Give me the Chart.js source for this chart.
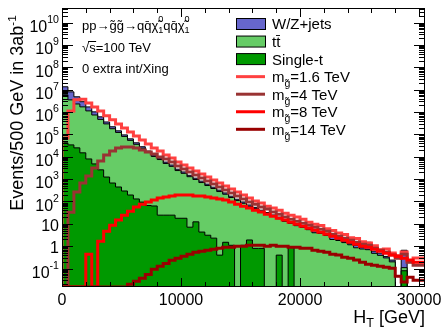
<!DOCTYPE html>
<html>
<head>
<meta charset="utf-8">
<script src="https://cdn.jsdelivr.net/npm/chart.js@4.4.1/dist/chart.umd.min.js"></script>
<style>
  html, body { margin: 0; padding: 0; background: #fff; }
  canvas { display: block; }
</style>
</head>
<body>
<canvas id="ht" width="444" height="329"></canvas>
<script>
// H_T spectrum, 500 GeV bins from 0 to 30.5 TeV, events in 3/ab
const BIN_WIDTH = 500;

const wzJets = [
  1.1e7, 7.6e6, 4.5e6, 2.5e6, 1.2e6, 5.7e5, 2.8e5, 1.4e5, 6.5e4, 4.0e4,
  2.2e4, 1.4e4, 9.0e3, 6.0e3, 4.0e3, 2.5e3, 1.6e3, 1.2e3, 750, 560,
  360, 280, 200, 140, 110, 80, 55, 45, 30, 22,
  16, 12, 9, 7, 6, 4, 3.5, 3, 2, 1.5,
  1.4, 1.0, 0.9, 1.6, 0.5, 0.5, 0.9, 0.3, 0.25, 0.2,
  0.25, 0.15, 0.8, 0.12, 0.1, 0.05, 0.04, 0, 0.55, 0, 0
];
const ttbar = [
  1.16e6, 5.86e6, 3.47e6, 2.28e6, 1.69e6, 1.12e6, 7.35e5, 4.67e5, 2.94e5, 1.79e5,
  1.22e5, 8.1e4, 5.4e4, 3.6e4, 2.4e4, 1.54e4, 1.03e4, 7.5e3, 5.0e3, 3.7e3,
  2400, 1800, 1280, 950, 700, 515, 380, 278, 210, 150,
  110, 82, 59, 47, 34, 28, 21.5, 16.6, 13, 9.6,
  8.3, 6.9, 5.5, 4.0, 3.7, 3.0, 2.0, 1.8, 1.45, 1.16,
  0.85, 0.75, 0.7, 0.48, 0.39, 0.3, 0.2, 0, 0.03, 0, 0
];
const singleTop = [
  4.2e4, 4.2e4, 3.4e4, 2.5e4, 1.5e4, 8.0e3, 4.8e3, 2.6e3, 1240, 670,
  445, 295, 195, 130, 94, 66, 63, 24.5, 24.5, 24.5,
  17.8, 17.8, 7.1, 12.3, 4.3, 3.1, 2.3, 0.4, 1.5, 1.1,
  0, 1.1, 1.9, 0.8, 0.8, 0, 0, 0.4, 0, 0.9,
  0, 0, 0, 0, 0, 0, 0, 0, 0, 0,
  0, 0, 0, 0, 0, 0, 0, 0, 0.08, 0, 0
];
const gluino1600 = [
  0, 6.9e4, 1.12e6, 3.55e6, 3.7e6, 2.57e6, 1.7e6, 1.12e6, 6.8e5, 4.5e5,
  2.95e5, 1.95e5, 1.29e5, 8.5e4, 5.6e4, 3.7e4, 24800, 18200, 12000, 8830,
  5850, 4290, 3150, 2310, 1690, 1240, 912, 668, 491, 360,
  264, 194, 142, 104, 85, 62, 51, 41, 30, 24.5,
  20, 16.2, 11.9, 9.7, 8.5, 6.0, 5.1, 3.9, 3.3, 2.4,
  2.2, 1.6, 1.4, 1.05, 0.7, 0.75, 0.5, 0.38, 0.55, 0.2, 0.3
];
const gluino4000 = [
  0, 0, 33, 263, 676, 1380, 3160, 6460, 1.2e4, 1.82e4,
  2.46e4, 2.75e4, 2.75e4, 2.46e4, 2.0e4, 1.62e4, 1.32e4, 9800, 7940, 5850,
  3870, 2840, 2080, 1530, 1120, 822, 603, 443, 324, 238,
  175, 128, 94, 76, 56, 46, 33.5, 27, 20, 16.2,
  13.2, 10.7, 8.7, 7.1, 5.8, 4.7, 3.45, 2.8, 2.29, 1.86,
  1.51, 1.23, 1.11, 0.81, 0.66, 0.54, 0.40, 0.29, 0.44, 0.19, 0.14
];
const gluino8000 = [
  0, 0, 0, 0, 0, 0.44, 0, 1.68, 4.7, 8.7,
  14.7, 24.5, 37, 56, 76, 94, 116, 142, 157, 175,
  194, 194, 194, 175, 175, 157, 142, 128, 116, 94,
  76, 62, 51, 41, 33.5, 27, 22, 18, 14.7, 11.9,
  9.7, 7.9, 6.4, 5.2, 4.2, 3.45, 2.8, 2.29, 1.86, 1.51,
  1.23, 1.0, 0.9, 0.73, 0.6, 0.49, 0.40, 0.35, 0.29, 0.24, 0.19
];
const gluino14000 = [
  0, 0, 0, 0, 0, 0, 0, 0, 0, 0,
  0, 0, 0.02, 0.027, 0.037, 0.055, 0.093, 0.127, 0.17, 0.235,
  0.29, 0.355, 0.44, 0.54, 0.6, 0.66, 0.73, 0.81, 0.9, 0.9,
  1.0, 1.0, 1.11, 1.11, 1.11, 1.0, 1.11, 1.0, 1.0, 0.9,
  0.9, 0.81, 0.81, 0.66, 0.6, 0.54, 0.44, 0.40, 0.32, 0.29,
  0.24, 0.19, 0.155, 0.14, 0.127, 0.115, 0.103, 0.045, 0.025, 0.041, 0.03
];
const xTickValues = [0, 10000, 20000, 30000];

const X_MAX = 30500;
const Y_MIN = 0.015, Y_MAX = 4.5e10;
const FONT = '"Liberation Sans", Arial, Helvetica, sans-serif';

// stacked totals: single-t at the bottom, then ttbar, then W/Z+jets
const stSum = singleTop.slice();
const ttSum = singleTop.map((v, i) => v + ttbar[i]);
const wzSum = ttSum.map((v, i) => v + wzJets[i]);

// bin contents -> step points at the bin low edges (plus the last upper edge)
function histPoints(values, floor) {
  const pts = values.map((v, i) => ({ x: i * BIN_WIDTH, y: v > 0 ? v : floor }));
  pts.push({ x: values.length * BIN_WIDTH, y: pts[pts.length - 1].y });
  return pts;
}

function stackSet(legend, values, color, order) {
  return {
    data: histPoints(values, 1e-6), stepped: 'after', fill: 'start',
    backgroundColor: color, borderColor: '#000', borderWidth: 1,
    pointRadius: 0, order: order, legend: legend, box: true
  };
}
function signalSet(legend, values, color, order) {
  return {
    data: histPoints(values, Y_MIN), stepped: 'after', fill: false,
    borderColor: color, borderWidth: 3, pointRadius: 0, order: order, legend: legend
  };
}

const gluinoLabel = mass => [{ t: 'm' }, { t: 'g\u0303', s: 0.7, dy: 5 }, { t: '=' + mass + ' TeV' }];

// draws (or just measures) a run of text pieces with sub/superscripts
function richText(ctx, parts, x, y, size, draw) {
  let cx = x;
  for (const p of parts) {
    ctx.font = (size * (p.s || 1)).toFixed(1) + 'px ' + FONT;
    if (draw !== false) ctx.fillText(p.t, cx, y + (p.dy || 0));
    if (!p.keep) cx += ctx.measureText(p.t).width;
  }
  return cx - x;
}

const rootStyle = {
  id: 'rootStyle',
  afterDatasetsDraw(chart) {
    const { ctx, chartArea: a, scales: { x, y } } = chart;
    ctx.save();
    ctx.strokeStyle = '#000';
    ctx.lineWidth = 1;
    ctx.beginPath();
    // x ticks inside the frame, bottom and top
    for (let v = 0; v <= x.max; v += 2000) {
      const px = Math.round(x.getPixelForValue(v)) + 0.5;
      const len = v % 10000 === 0 ? 9 : 5;
      ctx.moveTo(px, a.bottom); ctx.lineTo(px, a.bottom - len);
      ctx.moveTo(px, a.top); ctx.lineTo(px, a.top + len);
    }
    // log y ticks, left and right
    for (let k = -2; k <= 10; k++) {
      for (let m = 1; m <= 9; m++) {
        const v = m * Math.pow(10, k);
        if (v < y.min || v > y.max) continue;
        const py = Math.round(y.getPixelForValue(v)) + 0.5;
        const len = m === 1 ? 11 : 6;
        ctx.moveTo(a.left, py); ctx.lineTo(a.left + len, py);
        ctx.moveTo(a.right, py); ctx.lineTo(a.right - len, py);
      }
    }
    ctx.stroke();
    ctx.strokeRect(a.left + 0.5, a.top + 0.5, a.right - a.left - 1, a.bottom - a.top - 1);

    // y tick labels: 10^k
    ctx.fillStyle = '#000';
    ctx.textAlign = 'left';
    ctx.textBaseline = 'alphabetic';
    for (let k = -1; k <= 10; k++) {
      const py = y.getPixelForValue(Math.pow(10, k));
      let parts, base;
      if (k === 0) { parts = [{ t: '1' }]; base = py + 6.7; }
      else if (k === 1) { parts = [{ t: '10' }]; base = py + 6.7; }
      else { parts = [{ t: '10' }, { t: String(k), s: 0.66, dy: -9 }]; base = py + 9.2; }
      const w = richText(ctx, parts, 0, 0, 16, false);
      richText(ctx, parts, 59 - w, base, 16);
    }
    ctx.restore();
  },
  afterDraw(chart) {
    const { ctx, chartArea: a } = chart;
    ctx.save();
    ctx.fillStyle = '#000';
    ctx.textBaseline = 'alphabetic';
    ctx.textAlign = 'left';

    // legend
    const lx = 236, lw = 29, step = 17.55;
    chart.data.datasets.forEach((ds, i) => {
      const cy = 24 + i * step;
      if (ds.box) {
        ctx.fillStyle = ds.backgroundColor;
        ctx.fillRect(lx, cy - 5.5, lw, 11);
        ctx.strokeStyle = '#000';
        ctx.lineWidth = 1;
        ctx.strokeRect(lx + 0.5, cy - 5.5, lw, 11);
      } else {
        ctx.strokeStyle = ds.borderColor;
        ctx.lineWidth = 3;
        ctx.beginPath();
        ctx.moveTo(lx, cy); ctx.lineTo(lx + lw, cy);
        ctx.stroke();
      }
      ctx.fillStyle = '#000';
      richText(ctx, ds.legend, 272, cy + 5.4, 15);
    });

    // process and conditions
    const chi = [{ t: '\u03c7\u0303' }, { t: '0', s: 0.7, dy: -8, keep: true }, { t: '1', s: 0.7, dy: 3 }];
    richText(ctx, [{ t: 'pp\u2192g\u0303g\u0303\u2192qq\u0304' }].concat(chi, [{ t: 'qq\u0304' }], chi), 82, 30, 13);
    const sw = richText(ctx, [{ t: '\u221a' }], 82, 51.5, 13);
    richText(ctx, [{ t: 's=100 TeV' }], 82 + sw, 51.5, 13);
    ctx.lineWidth = 1;
    ctx.strokeStyle = '#000';
    ctx.beginPath();
    ctx.moveTo(82 + sw - 1, 41.5); ctx.lineTo(82 + sw + 7, 41.5);
    ctx.stroke();
    richText(ctx, [{ t: '0 extra int/Xing' }], 82, 72.5, 13);

    // axis titles
    const xt = [{ t: 'H' }, { t: 'T', s: 0.7, dy: 4 }, { t: ' [GeV]' }];
    const xw = richText(ctx, xt, 0, 0, 18, false);
    richText(ctx, xt, a.right - xw, 323, 18);

    const yt = [{ t: 'Events/500 GeV in 3ab' }, { t: '-1', s: 0.65, dy: -7 }];
    const yw = richText(ctx, yt, 0, 0, 18, false);
    ctx.translate(23, 113 + yw / 2);
    ctx.rotate(-Math.PI / 2);
    richText(ctx, yt, 0, 0, 18);
    ctx.restore();
  }
};

new Chart(document.getElementById('ht'), {
  type: 'line',
  data: {
    datasets: [
      stackSet([{ t: 'W/Z+jets' }], wzSum, '#6666cc', 10),
      stackSet([{ t: 'tt\u0304' }], ttSum, '#66cc66', 9),
      stackSet([{ t: 'Single-t' }], stSum, '#009900', 8),
      signalSet(gluinoLabel('1.6'), gluino1600, '#ff4040', 4),
      signalSet(gluinoLabel('4'), gluino4000, '#993333', 3),
      signalSet(gluinoLabel('8'), gluino8000, '#ff0000', 2),
      signalSet(gluinoLabel('14'), gluino14000, '#990000', 1)
    ]
  },
  options: {
    responsive: false,
    animation: false,
    events: [],
    layout: { padding: { left: 0, right: 19, top: 8, bottom: 0 } },
    plugins: { legend: { display: false }, tooltip: { enabled: false } },
    scales: {
      x: {
        type: 'linear', min: 0, max: X_MAX,
        grid: { display: false, drawTicks: false },
        border: { display: false },
        ticks: {
          autoSkip: false, maxRotation: 0,
          padding: 4, color: '#000', font: { family: FONT, size: 16 },
          callback: v => String(v)
        },
        afterBuildTicks: s => { s.ticks = xTickValues.map(v => ({ value: v })); },
        afterFit: s => { s.height = 42; s.paddingLeft = 0; s.paddingRight = 0; }
      },
      y: {
        type: 'logarithmic', min: Y_MIN, max: Y_MAX,
        grid: { display: false, drawTicks: false },
        border: { display: false },
        ticks: { display: false },
        afterFit: s => { s.width = 62; }
      }
    }
  },
  plugins: [rootStyle]
});
</script>
</body>
</html>
